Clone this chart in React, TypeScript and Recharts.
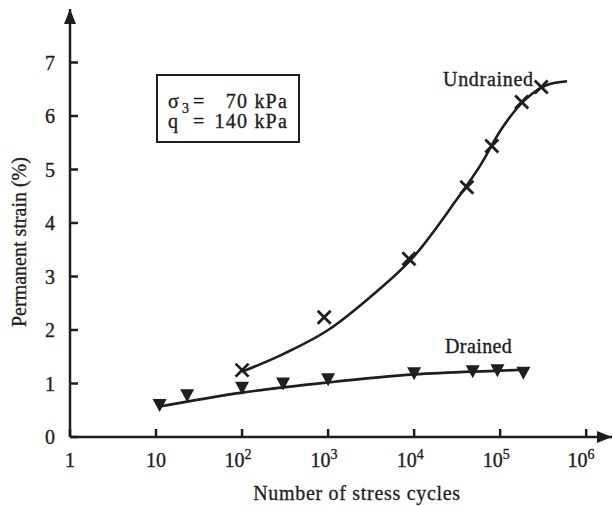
import React from "react";
import {
  ComposedChart,
  Line,
  Scatter,
  XAxis,
  YAxis,
  ReferenceDot,
} from "recharts";

// measured points (cycles, permanent strain %)
const undrainedCycles = [100, 900, 8700, 41000, 80000, 178000, 300000];
const undrainedStrain = [1.25, 2.24, 3.33, 4.67, 5.44, 6.26, 6.54];

const drainedCycles = [11, 23, 100, 300, 1000, 10000, 48000, 93000, 186000];
const drainedStrain = [0.6, 0.78, 0.92, 1.0, 1.08, 1.19, 1.23, 1.25, 1.2];

// hand drawn trend curves
const undrainedFitCycles = [100, 300, 1000, 3000, 10000, 30000, 60000, 100000, 200000, 350000, 600000];
const undrainedFitStrain = [1.22, 1.55, 2.0, 2.6, 3.38, 4.4, 5.1, 5.72, 6.32, 6.58, 6.65];

const drainedFitCycles = [11, 100, 1000, 10000, 100000, 200000];
const drainedFitStrain = [0.57, 0.83, 1.02, 1.17, 1.24, 1.26];

const xTicks = [1, 10, 100, 1000, 10000, 100000, 1000000];
const yTicks = [0, 1, 2, 3, 4, 5, 6, 7];

const X_MAX = Math.pow(10, 6.3);
const INK = "#1e1e1e";
const FONT = "'Liberation Serif', 'DejaVu Serif', serif";
const FS = 20;

const zip = (xs: number[], ys: number[]) => xs.map((n, i) => ({ n, s: ys[i] }));

const undrained = zip(undrainedCycles, undrainedStrain);
const drained = zip(drainedCycles, drainedStrain);
const undrainedFit = zip(undrainedFitCycles, undrainedFitStrain);
const drainedFit = zip(drainedFitCycles, drainedFitStrain);

const textStyle = { fontSize: FS, fontFamily: FONT, fill: INK, stroke: INK, strokeWidth: 0.35 };

const Cross = (props: any) => {
  const { cx, cy } = props;
  const r = 6.5;
  return (
    <path
      d={`M${cx - r},${cy - r}L${cx + r},${cy + r}M${cx - r},${cy + r}L${cx + r},${cy - r}`}
      stroke={INK}
      strokeWidth={2.8}
    />
  );
};

const DownTri = (props: any) => {
  const { cx, cy } = props;
  return <path d={`M${cx - 7},${cy - 6}L${cx + 7},${cy - 6}L${cx},${cy + 7}Z`} fill={INK} />;
};

const XTick = (props: any) => {
  const { x, y, payload } = props;
  const v = payload.value as number;
  const exp = Math.round(Math.log10(v));
  if (exp < 2) {
    return (
      <text x={x} y={y + 14} textAnchor="middle" {...textStyle}>
        {v}
      </text>
    );
  }
  return (
    <text x={x - 4} y={y + 14} textAnchor="middle" {...textStyle}>
      <tspan>10</tspan>
      <tspan dy={-8} fontSize={14}>
        {exp}
      </tspan>
    </text>
  );
};

const XArrow = (props: any) => {
  const { cx, cy } = props;
  return <path d={`M${cx},${cy}L${cx - 15},${cy - 6}L${cx - 15},${cy + 6}Z`} fill={INK} />;
};

const YArrow = (props: any) => {
  const { cx, cy } = props;
  return <path d={`M${cx},${cy}L${cx - 6},${cy + 15}L${cx + 6},${cy + 15}Z`} fill={INK} />;
};

export default function App() {
  return (
    <div style={{ position: "absolute", left: 0, top: 0, width: 613, height: 506, background: "#fff" }}>
      <ComposedChart width={613} height={506} margin={{ top: 9, right: 1, bottom: 0, left: 10 }}>
        <XAxis
          dataKey="n"
          type="number"
          scale="log"
          domain={[1, X_MAX]}
          allowDataOverflow
          ticks={xTicks}
          height={69}
          stroke={INK}
          strokeWidth={2.5}
          tickSize={-8}
          tickMargin={24}
          tick={<XTick />}
          label={{
            value: "Number of stress cycles",
            position: "insideBottom",
            offset: 6,
            dx: 16,
            letterSpacing: 0.7,
            ...textStyle,
            strokeWidth: 0.3,
          }}
        />
        <YAxis
          dataKey="s"
          type="number"
          domain={[0, 8]}
          ticks={yTicks}
          width={60}
          stroke={INK}
          strokeWidth={2.5}
          tickSize={-8}
          tickMargin={23}
          tick={textStyle}
          label={{
            value: "Permanent strain (%)",
            angle: -90,
            position: "insideLeft",
            offset: 9,
            dy: 104,
            ...textStyle,
            strokeWidth: 0.3,
          }}
        />
        <Line
          data={undrainedFit}
          dataKey="s"
          type="monotone"
          stroke={INK}
          strokeWidth={2.6}
          dot={false}
          isAnimationActive={false}
        />
        <Line
          data={drainedFit}
          dataKey="s"
          type="monotone"
          stroke={INK}
          strokeWidth={2.6}
          dot={false}
          isAnimationActive={false}
        />
        <Scatter data={undrained} dataKey="s" shape={<Cross />} isAnimationActive={false} />
        <Scatter data={drained} dataKey="s" shape={<DownTri />} isAnimationActive={false} />
        <ReferenceDot x={X_MAX} y={0} shape={<XArrow />} ifOverflow="visible" />
        <ReferenceDot x={1} y={8} shape={<YArrow />} ifOverflow="visible" />
      </ComposedChart>
      {/* annotations: condition box and curve names */}
      <svg width={613} height={506} style={{ position: "absolute", left: 0, top: 0, pointerEvents: "none" }}>
        <rect x={157} y={75} width={142} height={67} fill="none" stroke={INK} strokeWidth={2} />
        <text x={168} y={108} {...textStyle}>
          σ
        </text>
        <text x={182} y={113} {...textStyle} fontSize={14}>
          3
        </text>
        <text x={193} y={108} {...textStyle}>
          =
        </text>
        <text x={288} y={108} textAnchor="end" letterSpacing={1.2} {...textStyle}>
          70 kPa
        </text>
        <text x={168} y={128} {...textStyle}>
          q
        </text>
        <text x={193} y={128} {...textStyle}>
          =
        </text>
        <text x={288} y={128} textAnchor="end" letterSpacing={1.2} {...textStyle}>
          140 kPa
        </text>
        <text x={443} y={86} letterSpacing={0.7} {...textStyle}>
          Undrained
        </text>
        <text x={445} y={353} letterSpacing={0.4} {...textStyle}>
          Drained
        </text>
      </svg>
    </div>
  );
}
